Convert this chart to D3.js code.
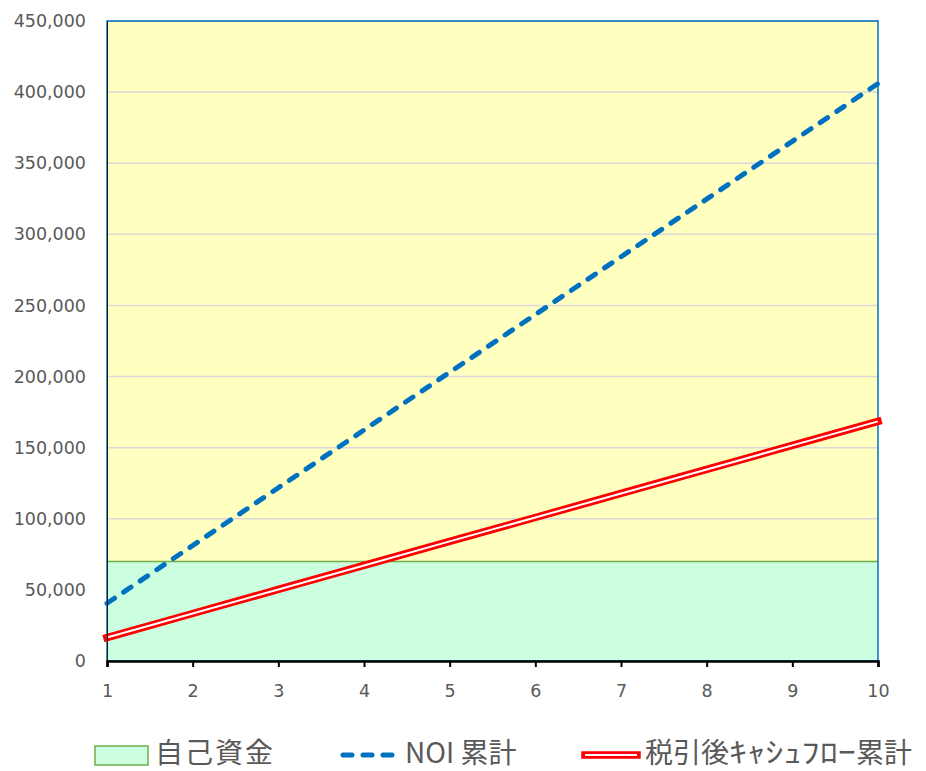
<!DOCTYPE html>
<html>
<head>
<meta charset="utf-8">
<script src="https://cdn.jsdelivr.net/npm/d3@7"></script>
<style>
  html, body { margin: 0; padding: 0; background: #ffffff; }
  svg { display: block; }
</style>
</head>
<body>
<svg id="chart" width="926" height="771"></svg>
<script>
// Years on the horizontal axis
const years = [1, 2, 3, 4, 5, 6, 7, 8, 9, 10];
// Cumulative NOI
const noiCumulative = [40600, 81200, 121800, 162400, 203000, 243600, 284200, 324800, 365400, 406000];
// Cumulative after-tax cash flow
const cashFlowCumulative = [16500, 33400, 50300, 67200, 84100, 100900, 117800, 134700, 151600, 168500];
// Own capital (horizontal band)
const ownCapital = 70000;
// Y axis ticks
const yTicks = [0, 50000, 100000, 150000, 200000, 250000, 300000, 350000, 400000, 450000];
// Legend labels
const legendLabels = ["自己資金", "NOI 累計", "税引後ｷｬｼｭﾌﾛｰ累計"];

const W = 926, H = 771;
const margin = { top: 21, right: 48, bottom: 110, left: 107 };
const iw = W - margin.left - margin.right;
const ih = H - margin.top - margin.bottom;

const svg = d3.select("#chart");
const g = svg.append("g").attr("transform", `translate(${margin.left},${margin.top})`);

const x = d3.scaleLinear().domain([1, 10]).range([0, iw]);
const y = d3.scaleLinear().domain([0, 450000]).range([ih, 0]);

const labelFont = "'DejaVu Sans', Verdana, sans-serif";
const textColor = "#595959";

// Plot background
g.append("rect").attr("x", 0).attr("y", 0).attr("width", iw).attr("height", ih)
  .attr("fill", "#FFFFC0");

// Gridlines
g.selectAll("line.grid").data(yTicks.filter(d => d > 0)).enter().append("line")
  .attr("class", "grid")
  .attr("x1", 0).attr("x2", iw)
  .attr("y1", d => y(d)).attr("y2", d => y(d))
  .attr("stroke", "#D9D9D9").attr("stroke-width", 1.5);

// Own capital band
g.append("rect")
  .attr("x", 0).attr("y", y(ownCapital))
  .attr("width", iw).attr("height", y(0) - y(ownCapital))
  .attr("fill", "#CCFFE0");
g.append("line")
  .attr("x1", 0).attr("x2", iw)
  .attr("y1", y(ownCapital)).attr("y2", y(ownCapital))
  .attr("stroke", "#70AD47").attr("stroke-width", 1.5);

// Plot area border
g.append("rect").attr("x", 0).attr("y", 0).attr("width", iw).attr("height", ih)
  .attr("fill", "none").attr("stroke", "#0070C0").attr("stroke-width", 1.5);

// Line generator
const line = d3.line().x((d, i) => x(years[i])).y(d => y(d));

// After-tax cash flow: double red line
g.append("path").datum(cashFlowCumulative)
  .attr("d", line).attr("fill", "none")
  .attr("stroke", "#FF0000").attr("stroke-width", 7.5)
  .attr("stroke-linecap", "square");
g.append("path").datum(cashFlowCumulative)
  .attr("d", line).attr("fill", "none")
  .attr("stroke", "#FFFFFF").attr("stroke-width", 2);

// NOI: dashed blue line
g.append("path").datum(noiCumulative)
  .attr("d", line).attr("fill", "none")
  .attr("stroke", "#0070C0").attr("stroke-width", 5)
  .attr("stroke-linecap", "round")
  .attr("stroke-dasharray", "9,11");

// Y axis
const yAxis = d3.axisLeft(y).tickValues(yTicks).tickSize(0).tickPadding(21)
  .tickFormat(d3.format(","));
const yg = g.append("g").call(yAxis);
yg.select(".domain").attr("stroke", "#1a1a1a").attr("stroke-width", 1);
yg.selectAll("text").attr("font-family", labelFont).attr("font-size", 17.5).attr("fill", textColor);

// X axis
const xAxis = d3.axisBottom(x).tickValues(years).tickSize(6).tickPadding(18)
  .tickFormat(d3.format("d"));
const xg = g.append("g").attr("transform", `translate(0,${ih})`).call(xAxis);
xg.select(".domain").attr("stroke", "#000000").attr("stroke-width", 2.5);
xg.selectAll(".tick line").attr("stroke", "#000000").attr("stroke-width", 2);
xg.selectAll("text").attr("font-family", labelFont).attr("font-size", 17.5).attr("fill", textColor);

// Legend
const legendFont = "'Noto Sans CJK JP', 'Noto Sans', sans-serif";
const ly = 755;        // legend row centre
const lb = 763;        // legend text baseline
const lfs = 28;        // legend font size
const legend = svg.append("g");

legend.append("rect").attr("x", 95).attr("y", 746).attr("width", 53).attr("height", 19)
  .attr("fill", "#CCFFE0").attr("stroke", "#70AD47").attr("stroke-width", 1.5);
legend.append("text").attr("x", 155).attr("y", lb)
  .attr("font-family", legendFont).attr("font-size", lfs).attr("fill", textColor)
  .attr("letter-spacing", 2)
  .text(legendLabels[0]);

legend.append("line").attr("x1", 343).attr("x2", 398).attr("y1", ly).attr("y2", ly)
  .attr("stroke", "#0070C0").attr("stroke-width", 5)
  .attr("stroke-linecap", "round").attr("stroke-dasharray", "9,11");
legend.append("text").attr("x", 405).attr("y", lb)
  .attr("font-family", legendFont).attr("font-size", lfs).attr("fill", textColor)
  .text(legendLabels[1]);

legend.append("line").attr("x1", 585).attr("x2", 637).attr("y1", ly).attr("y2", ly)
  .attr("stroke", "#FF0000").attr("stroke-width", 7.5).attr("stroke-linecap", "square");
legend.append("line").attr("x1", 585).attr("x2", 637).attr("y1", ly).attr("y2", ly)
  .attr("stroke", "#FFFFFF").attr("stroke-width", 2);

// Third label: kanji, half-width katakana (widened), kanji
const cfLabel = legendLabels[2];
const cfParts = [cfLabel.slice(0, 3), cfLabel.slice(3, 10), cfLabel.slice(10)];
const cfText = legend.append("text").attr("x", 645).attr("y", lb)
  .attr("font-family", legendFont).attr("font-size", lfs).attr("fill", textColor);
cfText.append("tspan").text(cfParts[0]);
cfText.append("tspan").attr("textLength", 127).attr("lengthAdjust", "spacingAndGlyphs").text(cfParts[1]);
cfText.append("tspan").text(cfParts[2]);
</script>
</body>
</html>
